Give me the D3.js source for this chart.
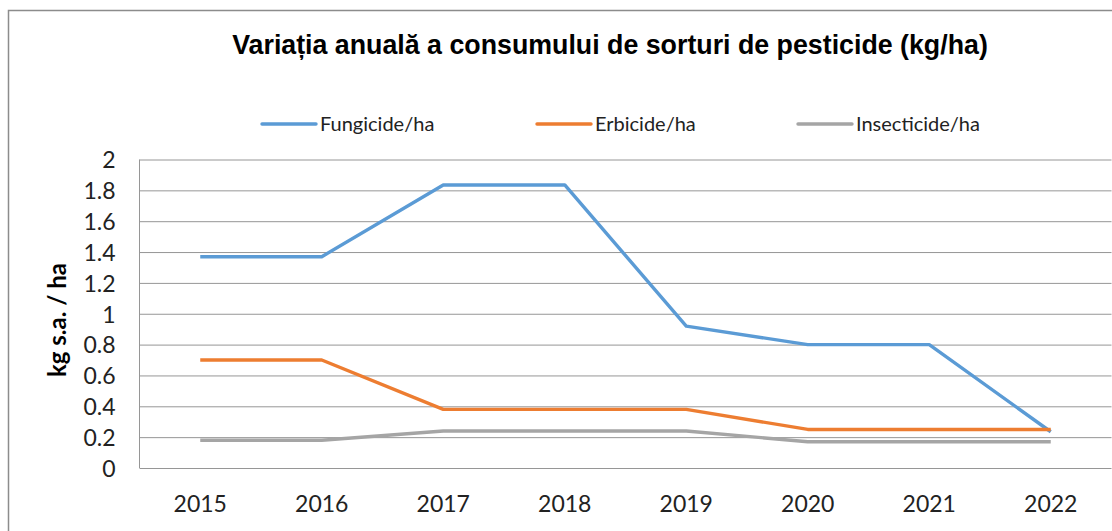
<!DOCTYPE html>
<html>
<head>
<meta charset="utf-8">
<script src="https://cdn.jsdelivr.net/npm/d3@7"></script>
<style>
  body { margin: 0; background: #fff; }
  svg { display: block; }
</style>
</head>
<body>
<svg id="chart" width="1112" height="531"></svg>
<script>
// data
const years = ['2015', '2016', '2017', '2018', '2019', '2020', '2021', '2022'];
const fungicide = [1.37, 1.37, 1.835, 1.835, 0.92, 0.8, 0.8, 0.235];
const erbicide = [0.7, 0.7, 0.38, 0.38, 0.38, 0.25, 0.25, 0.25];
const insecticide = [0.18, 0.18, 0.24, 0.24, 0.24, 0.17, 0.17, 0.17];
const yTicks = [0, 0.2, 0.4, 0.6, 0.8, 1, 1.2, 1.4, 1.6, 1.8, 2];

const series = [
  { name: 'Fungicide/ha', values: fungicide, color: '#5B9BD5' },
  { name: 'Erbicide/ha', values: erbicide, color: '#ED7D31' },
  { name: 'Insecticide/ha', values: insecticide, color: '#A5A5A5' }
];

const svg = d3.select('#chart');
const plot = { left: 139.5, top: 159.5, width: 972, height: 308.5 };

// outer chart frame (cropped on right / bottom)
svg.append('path')
  .attr('d', 'M8.5,531 V10.5 H1112')
  .attr('fill', 'none')
  .attr('stroke', '#8c8c8c')
  .attr('stroke-width', 1.5);

const x = d3.scaleBand().domain(years).range([0, plot.width]);
const y = d3.scaleLinear().domain([0, 2]).range([plot.height, 0]);

const g = svg.append('g')
  .attr('transform', `translate(${plot.left},${plot.top})`);

// gridlines + y labels
const yAxis = g.append('g')
  .call(d3.axisLeft(y).tickValues(yTicks).tickSize(-plot.width).tickFormat(d3.format('~g')));
yAxis.select('.domain').remove();
yAxis.selectAll('.tick line')
  .attr('stroke', '#969696')
  .attr('stroke-width', 1);
yAxis.selectAll('.tick text')
  .attr('x', -24)
  .attr('dy', '0.36em')
  .style('font-family', 'Lato, sans-serif')
  .style('font-size', '23px')
  .style('fill', '#222');

// left axis line
g.append('line')
  .attr('x1', 0).attr('x2', 0)
  .attr('y1', 0).attr('y2', plot.height)
  .attr('stroke', '#969696');

// x labels
const xAxis = g.append('g')
  .attr('transform', `translate(0,${plot.height})`)
  .call(d3.axisBottom(x).tickSize(0));
xAxis.select('.domain').remove();
xAxis.selectAll('.tick text')
  .attr('y', 0)
  .attr('dy', 44)
  .style('font-family', 'Lato, sans-serif')
  .style('font-size', '23px')
  .style('fill', '#222');

// series lines
const line = d3.line()
  .x((d, i) => x(years[i]) + x.bandwidth() / 2)
  .y(d => y(d));

g.selectAll('path.series')
  .data(series)
  .join('path')
  .attr('class', 'series')
  .attr('d', d => line(d.values))
  .attr('fill', 'none')
  .attr('stroke', d => d.color)
  .attr('stroke-width', 3.4)
  .attr('stroke-linejoin', 'round');

// y axis title
svg.append('text')
  .attr('transform', 'translate(66,320) rotate(-90)')
  .attr('text-anchor', 'middle')
  .style('font-family', 'Lato, sans-serif')
  .style('font-weight', 'bold')
  .style('font-size', '24px')
  .style('fill', '#000')
  .text('kg s.a. / ha');

// title, sized to span the same width as the reference
const title = svg.append('text')
  .attr('x', 610)
  .attr('y', 54)
  .attr('text-anchor', 'middle')
  .style('font-family', '"Liberation Sans", Arial, sans-serif')
  .style('font-weight', 'bold')
  .style('font-size', '22px')
  .style('fill', '#000')
  .text('Variația anuală a consumului de sorturi de pesticide (kg/ha)');
const tw = title.node().getComputedTextLength();
title.style('font-size', (22 * 756 / tw).toFixed(2) + 'px');

// legend
const legendX = [262, 537, 798];
const legend = svg.selectAll('g.legend')
  .data(series)
  .join('g')
  .attr('class', 'legend')
  .attr('transform', (d, i) => `translate(${legendX[i]},124)`);
legend.append('line')
  .attr('x1', 0).attr('x2', 54)
  .attr('stroke', d => d.color)
  .attr('stroke-width', 3.4)
  .attr('stroke-linecap', 'round');
legend.append('text')
  .attr('x', 58)
  .attr('dy', '0.35em')
  .style('font-family', 'Lato, sans-serif')
  .style('font-size', '20px')
  .style('fill', '#222')
  .text(d => d.name);
</script>
</body>
</html>
